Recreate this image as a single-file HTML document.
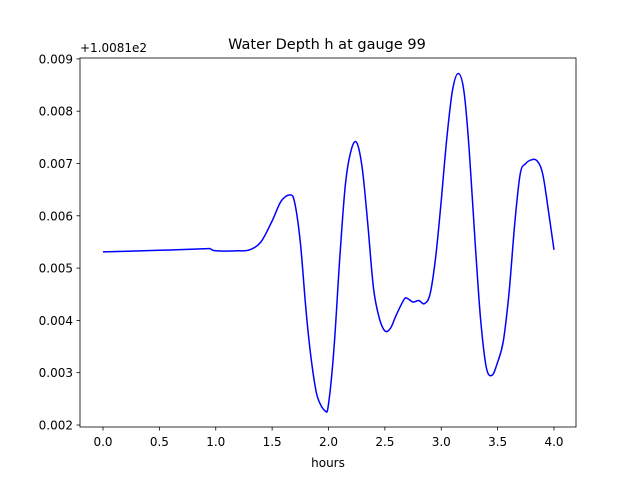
<!DOCTYPE html>
<html><head><meta charset="utf-8"><style>
body{margin:0;background:#fff;}
text{font-family:"DejaVu Sans","Liberation Sans",sans-serif;font-size:12px;fill:#000;}
</style></head><body>
<svg id="chart" width="640" height="480" xmlns="http://www.w3.org/2000/svg">
<rect width="640" height="480" fill="#fff"/>
<text x="327" y="49" text-anchor="middle" style="font-size:14.5px">Water Depth h at gauge 99</text>
<text x="80" y="52">+1.0081e2</text>
<text x="328" y="467" text-anchor="middle">hours</text>
<g id="ticks"></g>
<path id="line" fill="none" stroke="#0000ff" stroke-width="1.5" stroke-linejoin="round"/>
<rect x="80" y="58" width="496" height="369" fill="none" stroke="#000" stroke-width="0.8"/>
</svg>
<script>
const hours=[0,0.5,0.9,0.95,1.0,1.2,1.3,1.4,1.5,1.58,1.66,1.7,1.75,1.8,1.85,1.9,1.97,2.0,2.05,2.1,2.15,2.2,2.25,2.3,2.35,2.4,2.45,2.5,2.55,2.6,2.67,2.7,2.75,2.8,2.85,2.9,2.95,3.0,3.05,3.1,3.15,3.2,3.25,3.3,3.35,3.4,3.45,3.5,3.55,3.6,3.65,3.7,3.75,3.8,3.85,3.9,3.95,4.0];
const depth=[5.31,5.34,5.37,5.37,5.33,5.33,5.35,5.5,5.9,6.28,6.4,6.25,5.5,4.2,3.2,2.55,2.27,2.4,3.5,5.2,6.6,7.25,7.4,6.9,5.8,4.6,4.05,3.8,3.85,4.1,4.4,4.42,4.35,4.38,4.32,4.5,5.2,6.3,7.5,8.4,8.72,8.4,7.2,5.5,4.0,3.1,2.95,3.2,3.6,4.5,5.8,6.8,7.0,7.07,7.05,6.8,6.1,5.35];
const xTicks=["0.0","0.5","1.0","1.5","2.0","2.5","3.0","3.5","4.0"];
const yTicks=["0.002","0.003","0.004","0.005","0.006","0.007","0.008","0.009"];
const X=v=>103+v*112.75;
const Y=v=>425-(v-2)*52.3;
const NS="http://www.w3.org/2000/svg";
const P=hours.map((h,i)=>[X(h),Y(depth[i])]);
let d='M'+P[0][0].toFixed(1)+','+P[0][1].toFixed(1);
for(let i=0;i<P.length-1;i++){
 const p0=P[Math.max(0,i-1)],p1=P[i],p2=P[i+1],p3=P[Math.min(P.length-1,i+2)];
 const c1=[p1[0]+(p2[0]-p0[0])/6,p1[1]+(p2[1]-p0[1])/6];
 const c2=[p2[0]-(p3[0]-p1[0])/6,p2[1]-(p3[1]-p1[1])/6];
 d+=' C'+c1.map(v=>v.toFixed(1)).join(',')+' '+c2.map(v=>v.toFixed(1)).join(',')+' '+p2.map(v=>v.toFixed(1)).join(',');
}
document.getElementById('line').setAttribute('d',d);
const g=document.getElementById('ticks');
xTicks.forEach(t=>{const x=X(parseFloat(t));
 const l=document.createElementNS(NS,'line');
 
 
 l.setAttribute('x1',x);l.setAttribute('x2',x);l.setAttribute('y1',427);l.setAttribute('y2',430.5);l.setAttribute('stroke','#000');l.setAttribute('stroke-width','0.8');g.appendChild(l);
 const s=document.createElementNS(NS,'text');
 
 
 s.setAttribute('x',x);s.setAttribute('y',446);s.setAttribute('text-anchor','middle');s.textContent=t;g.appendChild(s);});
yTicks.forEach(t=>{const y=Y(parseFloat(t)*1000);
 const l=document.createElementNS(NS,'line');
 
 
 l.setAttribute('x1',76.5);l.setAttribute('x2',80);l.setAttribute('y1',y);l.setAttribute('y2',y);l.setAttribute('stroke','#000');l.setAttribute('stroke-width','0.8');g.appendChild(l);
 const s=document.createElementNS(NS,'text');
 
 
 s.setAttribute('x',73);s.setAttribute('y',y+4.5);s.setAttribute('text-anchor','end');s.textContent=t;g.appendChild(s);});
</script>
</body></html>
